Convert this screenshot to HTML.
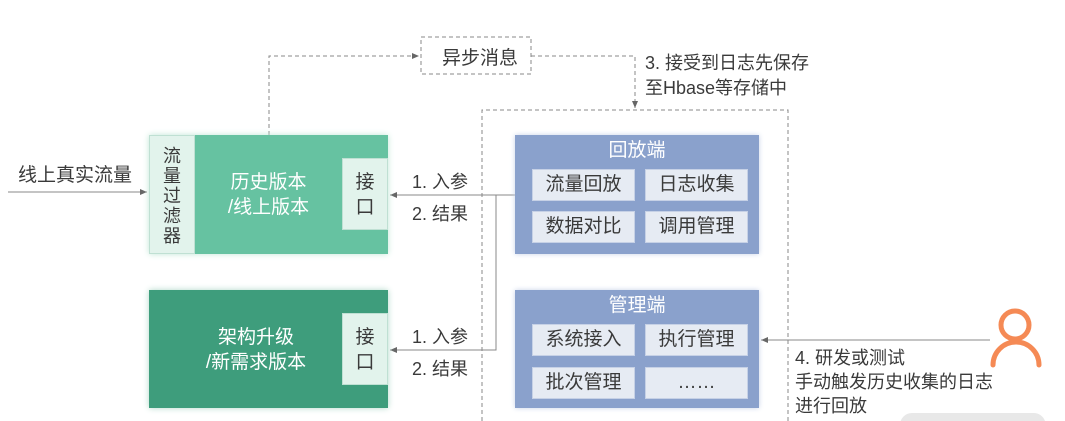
<!DOCTYPE html><html><head><meta charset="utf-8"><style>
html,body{margin:0;width:1065px;height:421px;overflow:hidden}
body{background:#fff;position:relative;font-family:"Liberation Sans","Noto Sans CJK SC",sans-serif;color:#3a3a3a}
div{position:absolute;box-sizing:border-box}
.t{font-size:18px;white-space:nowrap}
.g1{background:#66c2a1;box-shadow:0 0 6px #bfe6d6}
.g2{background:#3e9d7c;box-shadow:0 0 6px #b0d8c8}
.lt{background:#e2f3ec;border:1px solid #bfe0d3}
.bl{background:#8aa1cc;box-shadow:0 0 5px #c8d2e8}
.c{background:#e6ebf3;border:1px solid #c6d1e6;font-size:19px;text-align:center;line-height:30px;color:#3a3a3a}
.w{color:#fff;text-align:center;font-size:19px;line-height:25px}
</style></head><body>
<svg width="1065" height="421" style="position:absolute;left:0;top:0">
<defs><marker id="a" markerWidth="8" markerHeight="8" refX="7" refY="4" orient="auto"><path d="M0,1 L7,4 L0,7z" fill="#666"/></marker></defs>
<g stroke="#888" fill="none" stroke-dasharray="4,3">
<path d="M269 135 V56 H419" marker-end="url(#a)"/>
<path d="M531 56 H635 V108" marker-end="url(#a)"/>
<rect x="421" y="37" width="110" height="37"/>
<path d="M482 421 V110 H788 V421"/>
</g>
<g stroke="#888" fill="none">
<path d="M8 192 H147" marker-end="url(#a)"/>
<path d="M515 195 H390" marker-end="url(#a)"/>
<path d="M496 195 V350 H390" marker-end="url(#a)"/>
<path d="M990 340 H761" marker-end="url(#a)"/>
</g>
<circle cx="1015" cy="325" r="14" fill="none" stroke="#f58a55" stroke-width="5"/>
<path d="M993 365 A23 23 0 0 1 1039 365" fill="none" stroke="#f58a55" stroke-width="5" stroke-linecap="round"/>
<path d="M900 421 V425 A12 12 0 0 1 912 413 H1033 A12 12 0 0 1 1045 421 Z" fill="#e8e8e8"/>
</svg>
<div class="t" style="left:442px;top:43px;font-size:19px">异步消息</div>
<div class="t" style="left:645px;top:51px;line-height:25px">3. 接受到日志先保存<br>至Hbase等存储中</div>
<div class="t" style="left:18px;top:160px;font-size:19px">线上真实流量</div>
<div class="g1" style="left:149px;top:135px;width:239px;height:119px"></div>
<div class="lt" style="left:149px;top:135px;width:46px;height:119px;font-size:18px;line-height:20px;text-align:center;padding-top:10px">流<br>量<br>过<br>滤<br>器</div>
<div class="w" style="left:195px;top:170px;width:147px">历史版本<br>/线上版本</div>
<div class="lt" style="left:342px;top:158px;width:46px;height:72px;font-size:19px;line-height:25px;text-align:center;padding-top:11px">接<br>口</div>
<div class="g2" style="left:149px;top:290px;width:239px;height:118px"></div>
<div class="w" style="left:170px;top:325px;width:172px">架构升级<br>/新需求版本</div>
<div class="lt" style="left:342px;top:313px;width:46px;height:72px;font-size:19px;line-height:25px;text-align:center;padding-top:11px">接<br>口</div>
<div class="t" style="left:412px;top:168px">1. 入参</div>
<div class="t" style="left:412px;top:200px">2. 结果</div>
<div class="t" style="left:412px;top:323px">1. 入参</div>
<div class="t" style="left:412px;top:355px">2. 结果</div>
<div class="bl" style="left:515px;top:135px;width:244px;height:119px"></div>
<div class="w" style="left:515px;top:138px;width:244px">回放端</div>
<div class="c" style="left:532px;top:169px;width:103px;height:32px">流量回放</div>
<div class="c" style="left:645px;top:169px;width:103px;height:32px">日志收集</div>
<div class="c" style="left:532px;top:211px;width:103px;height:32px">数据对比</div>
<div class="c" style="left:645px;top:211px;width:103px;height:32px">调用管理</div>
<div class="bl" style="left:515px;top:290px;width:244px;height:118px"></div>
<div class="w" style="left:515px;top:293px;width:244px">管理端</div>
<div class="c" style="left:532px;top:324px;width:103px;height:32px">系统接入</div>
<div class="c" style="left:645px;top:324px;width:103px;height:32px">执行管理</div>
<div class="c" style="left:532px;top:367px;width:103px;height:32px">批次管理</div>
<div class="c" style="left:645px;top:367px;width:103px;height:32px">……</div>
<div class="t" style="left:795px;top:346px;line-height:24px">4. 研发或测试<br>手动触发历史收集的日志<br>进行回放</div>
</body></html>
